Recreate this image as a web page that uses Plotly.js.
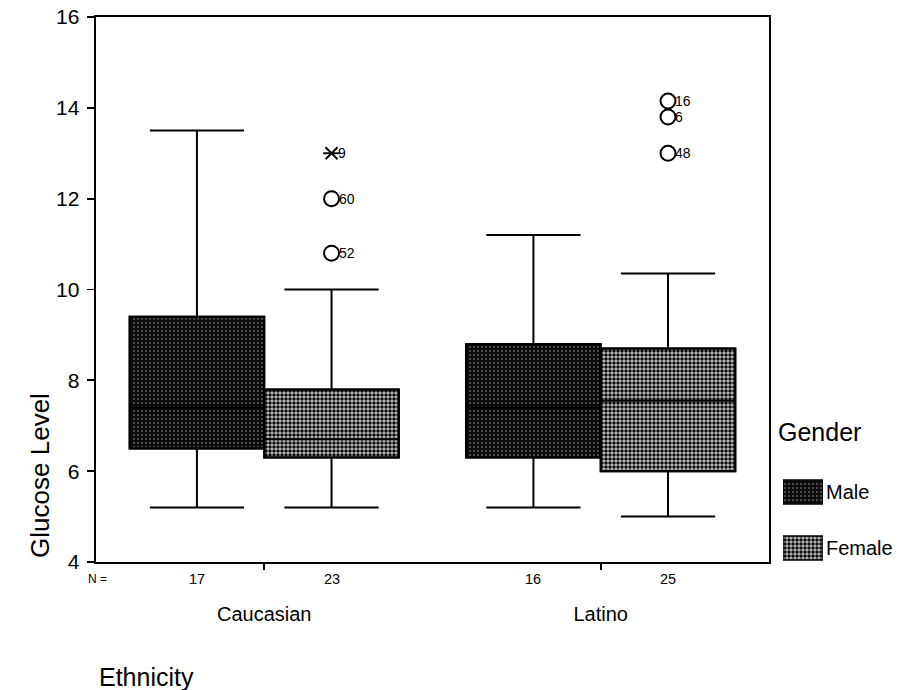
<!DOCTYPE html>
<html>
<head>
<meta charset="utf-8">
<script src="https://cdn.plot.ly/plotly-3.0.1.min.js"></script>
<style>html,body{margin:0;padding:0;background:#fff;}#chart{width:898px;height:690px;}</style>
</head>
<body>
<div id="chart"></div>
<script>
const ethnicities = ['Caucasian', 'Latino'];
const genders = ['Male', 'Female'];

const maleN = [17, 16];
const maleQ1 = [6.5, 6.3];
const maleMedian = [7.4, 7.4];
const maleQ3 = [9.4, 8.8];
const maleLow = [5.2, 5.2];
const maleHigh = [13.5, 11.2];

const femaleN = [23, 25];
const femaleQ1 = [6.3, 6.0];
const femaleMedian = [6.7, 7.55];
const femaleQ3 = [7.8, 8.7];
const femaleLow = [5.2, 5.0];
const femaleHigh = [10.0, 10.35];

const outlierEthnicity = ['Caucasian', 'Caucasian', 'Latino', 'Latino', 'Latino'];
const outlierValue = [10.8, 12.0, 14.15, 13.8, 13.0];
const outlierCase = ['52', '60', '16', '6', '48'];

const extremeEthnicity = ['Caucasian'];
const extremeValue = [13.0];
const extremeCase = ['9'];

const yTicks = [4, 6, 8, 10, 12, 14, 16];

// ---- layout helpers ----
const FONT = 'Arial, "Liberation Sans", sans-serif';
const groupOffset = { Male: -0.2, Female: 0.2 };
const boxWidth = 0.4;
const pos = (eth, g) => ethnicities.indexOf(eth) + groupOffset[g];

const patterns = {
  Male: { shape: '.', bgcolor: '#0c0c0c', fgcolor: '#626262', size: 4, solidity: 0.18 },
  Female: { shape: '.', bgcolor: '#c4c4c4', fgcolor: '#0c0c0c', size: 4, solidity: 0.6 }
};

const stats = {
  Male: { n: maleN, q1: maleQ1, med: maleMedian, q3: maleQ3, lo: maleLow, hi: maleHigh },
  Female: { n: femaleN, q1: femaleQ1, med: femaleMedian, q3: femaleQ3, lo: femaleLow, hi: femaleHigh }
};

const traces = [];
genders.forEach(g => {
  const s = stats[g];
  traces.push({
    type: 'bar', xaxis: 'x', yaxis: 'y', name: g, showlegend: false,
    x: ethnicities.map(e => pos(e, g)),
    base: s.q1,
    y: s.q3.map((v, i) => v - s.q1[i]),
    width: boxWidth,
    marker: { color: patterns[g].bgcolor, pattern: patterns[g], line: { color: '#000', width: 2 } },
    hoverinfo: 'skip'
  });
});
genders.forEach(g => {
  const s = stats[g];
  traces.push({
    type: 'box', xaxis: 'x', yaxis: 'y', name: g, showlegend: false,
    x: ethnicities.map(e => pos(e, g)),
    q1: s.q1, median: s.med, q3: s.q3, lowerfence: s.lo, upperfence: s.hi,
    width: boxWidth, whiskerwidth: 0.7,
    fillcolor: 'rgba(0,0,0,0)',
    line: { color: '#000', width: 2 },
    boxpoints: false
  });
});
traces.push({
  type: 'scatter', mode: 'markers', xaxis: 'x', yaxis: 'y', showlegend: false,
  x: outlierEthnicity.map(e => pos(e, 'Female')),
  y: outlierValue,
  marker: { symbol: 'circle-open', size: 15, color: '#000', line: { width: 2 } },
  cliponaxis: false
});
['x-thin-open', 'line-ew-open'].forEach(sym => {
  traces.push({
    type: 'scatter', mode: 'markers', xaxis: 'x', yaxis: 'y', showlegend: false,
    x: extremeEthnicity.map(e => pos(e, 'Female')),
    y: extremeValue,
    marker: { symbol: sym, size: 12, color: '#000', line: { width: 1.9, color: '#000' } },
    cliponaxis: false
  });
});
// legend swatches
genders.forEach(g => {
  traces.push({
    type: 'bar', orientation: 'h', xaxis: 'x2', yaxis: 'y2', showlegend: false,
    y: [g], x: [1], width: 0.43,
    marker: { color: patterns[g].bgcolor, pattern: patterns[g], line: { color: '#000', width: 1.4 } },
    hoverinfo: 'skip'
  });
});

const annotations = [];
const caseFont = { family: FONT, size: 14, color: '#000' };
outlierCase.forEach((c, i) => {
  annotations.push({ xref: 'x', yref: 'y', x: pos(outlierEthnicity[i], 'Female'), y: outlierValue[i], text: c,
    showarrow: false, font: caseFont, xanchor: 'left', yanchor: 'middle', xshift: 5 });
});
extremeCase.forEach((c, i) => {
  annotations.push({ xref: 'x', yref: 'y', x: pos(extremeEthnicity[i], 'Female'), y: extremeValue[i], text: c,
    showarrow: false, font: caseFont, xanchor: 'left', yanchor: 'middle', xshift: 4 });
});
annotations.push({ xref: 'paper', yref: 'paper', x: 0.0025, y: -0.031, text: 'N =', showarrow: false,
  font: { family: FONT, size: 12, color: '#000' }, xanchor: 'center', yanchor: 'middle' });
genders.forEach(g => {
  ethnicities.forEach((e, i) => {
    annotations.push({ xref: 'x', yref: 'paper', x: pos(e, g), y: -0.031, text: String(stats[g].n[i]),
      showarrow: false, font: { family: FONT, size: 14.5, color: '#000' }, xanchor: 'center', yanchor: 'middle' });
  });
});
annotations.push({ xref: 'paper', yref: 'paper', x: -0.0707, y: 0.158, text: 'Glucose Level', textangle: -90,
  showarrow: false, font: { family: FONT, size: 26, color: '#000' }, xanchor: 'center', yanchor: 'middle' });
annotations.push({ xref: 'paper', yref: 'paper', x: 0.0008, y: -0.211, text: 'Ethnicity',
  showarrow: false, font: { family: FONT, size: 25, color: '#000' }, xanchor: 'left', yanchor: 'middle' });
annotations.push({ xref: 'paper', yref: 'paper', x: 0.859, y: 0.2385, text: 'Gender',
  showarrow: false, font: { family: FONT, size: 25, color: '#000' }, xanchor: 'left', yanchor: 'middle' });

const layout = {
  width: 898, height: 690,
  margin: { l: 96, r: 10, t: 17, b: 128 },
  paper_bgcolor: '#fff', plot_bgcolor: '#fff',
  showlegend: false,
  barmode: 'overlay',
  font: { family: FONT, color: '#000' },
  xaxis: {
    domain: [0, 0.8497], range: [-0.5, 1.5],
    tickvals: ethnicities.map((e, i) => i), ticktext: ethnicities,
    ticks: 'outside', ticklen: 6, tickwidth: 1.8, tickcolor: '#000',
    tickfont: { family: FONT, size: 20, color: '#000' },
    ticklabelstandoff: 27,
    showline: true, linecolor: '#000', linewidth: 2.4, mirror: true,
    showgrid: false, zeroline: false, fixedrange: true
  },
  yaxis: {
    domain: [0, 1], range: [4, 16],
    tickvals: yTicks,
    ticks: 'outside', ticklen: 7, tickwidth: 1.8, tickcolor: '#000',
    tickfont: { family: FONT, size: 21, color: '#000' },
    ticklabelstandoff: 3,
    showline: true, linecolor: '#000', linewidth: 2.4, mirror: true,
    showgrid: false, zeroline: false, fixedrange: true
  },
  xaxis2: { domain: [0.8674, 0.9179], anchor: 'y2', range: [0, 1], visible: false, fixedrange: true },
  yaxis2: {
    domain: [0, 0.2495], anchor: 'x2', type: 'category', categoryorder: 'array', categoryarray: genders,
    range: [1.25, -1.179], side: 'right', showline: false, showgrid: false, zeroline: false,
    ticks: '', tickfont: { family: FONT, size: 20, color: '#000' }, ticklabelstandoff: 2, fixedrange: true
  },
  annotations: annotations
};

Plotly.newPlot('chart', traces, layout, { displayModeBar: false, staticPlot: true });
</script>
</body>
</html>
